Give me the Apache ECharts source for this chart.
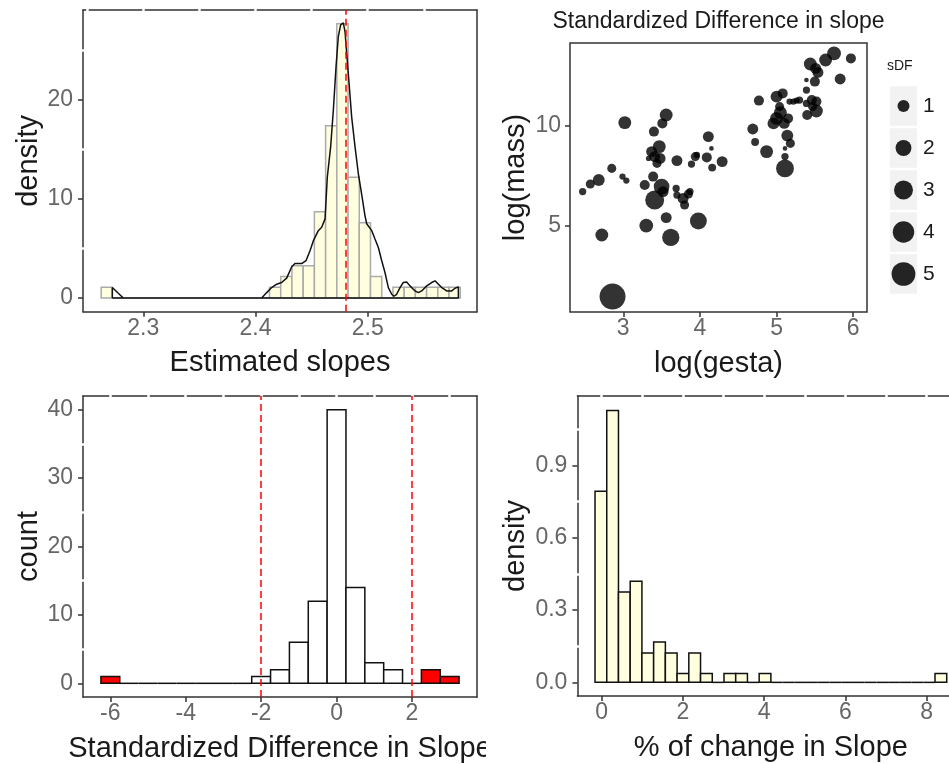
<!DOCTYPE html>
<html>
<head>
<meta charset="utf-8">
<script src="https://cdn.jsdelivr.net/npm/echarts@6/dist/echarts.min.js"></script>
<style>
  html, body { margin: 0; padding: 0; background: #fff; }
  #chart { width: 949px; height: 764px; }
</style>
</head>
<body>
<div id="chart"></div>
<script>
// ---------- Estimated slopes (histogram as density + kernel density outline) ----------
const slopeBinStart = 2.2625;
const slopeBinWidth = 0.01;
const slopeDensity = [1.09, 0, 0, 0, 0, 0, 0, 0, 0, 0, 0, 0, 0, 0, 0,
  1.09, 2.17, 3.26, 3.26, 8.7, 17.4, 27.7, 12.2, 7.6, 2.17, 0,
  1.09, 1.09, 1.09, 1.09, 1.09, 1.09];
const slopeKdeX = [2.2724, 2.2724, 2.2822, 2.4055, 2.41, 2.4144, 2.4189, 2.4233, 2.4278, 2.4323,
  2.4352, 2.4412, 2.445, 2.4486, 2.4516, 2.456, 2.459, 2.462, 2.464, 2.467, 2.4694, 2.4718,
  2.4738, 2.4759, 2.4783, 2.4798, 2.4813, 2.4834, 2.4857, 2.4887, 2.4916, 2.4946, 2.4976,
  2.4991, 2.5036, 2.5065, 2.5095, 2.5125, 2.5154, 2.5184, 2.5214, 2.5234, 2.5258, 2.5288,
  2.5317, 2.5347, 2.5377, 2.5422, 2.5451, 2.5481, 2.5526, 2.557, 2.56, 2.563, 2.566, 2.5704,
  2.5749, 2.5778, 2.5808, 2.5808, 2.2724];
const slopeKdeY = [0, 1.05, 0, 0, 0.54, 1.05, 1.39, 1.56, 2.0, 3.15,
  3.48, 3.48, 3.76, 4.77, 5.79, 6.8, 7.14, 7.99, 12.2, 15.3, 19.0, 23.4,
  26.4, 27.6, 27.8, 26.9, 24.7, 21.7, 18.3, 15.3, 12.6, 10.5, 8.3,
  7.5, 6.8, 5.96, 5.1, 3.76, 2.57, 1.05, 0.37, 0.17, 0.37, 1.05,
  1.56, 1.62, 1.22, 0.71, 0.54, 0.71, 1.22, 1.56, 1.73, 1.39, 1.05, 0.71,
  0.71, 0.98, 1.12, 0, 0];
const slopeMean = 2.478;
const slopeTicks = [2.3, 2.4, 2.5];
const slopeMinorGrid = [2.25, 2.3, 2.35, 2.4, 2.45, 2.5, 2.55];
const slopeDensityTicks = [0, 10, 20];
const slopeDensityMinor = [5, 15, 25];

// ---------- log(mass) against log(gesta), sized by |standardized difference| ----------
const gestaLog = [2.47, 2.57, 2.68, 2.85, 2.99, 3.04, 3.02, 2.72, 2.86, 3.40,
  3.51, 3.56, 3.47, 3.37, 3.41, 3.48, 3.33, 3.44, 3.70, 3.39,
  3.28, 3.50, 3.41, 3.52, 3.69, 3.70, 3.78, 3.85, 3.80, 3.87,
  3.30, 3.56, 3.62, 3.98, 3.89, 3.94, 3.96, 4.11, 4.15, 4.09,
  4.16, 4.29, 4.69, 4.72, 4.77, 4.87, 5.00, 5.08, 4.96, 5.00,
  5.05, 5.10, 5.15, 5.04, 5.11, 5.11, 5.11, 5.14, 5.18, 5.17,
  5.22, 5.30, 5.39, 5.39, 5.39, 5.46, 5.52, 5.40, 5.52, 5.44,
  5.51, 5.54, 5.50, 5.64, 5.75, 5.97, 5.83, 5.47, 5.26];
const massLog = [6.72, 7.10, 7.30, 7.88, 7.47, 7.27, 10.17, 4.55, 1.47, 9.72,
  10.13, 10.55, 8.97, 8.72, 8.47, 8.38, 8.38, 8.13, 8.27, 7.47,
  7.05, 6.97, 6.30, 6.72, 6.88, 6.55, 6.38, 6.60, 6.05, 6.72,
  5.02, 5.42, 4.43, 5.25, 8.10, 8.47, 8.55, 9.47, 8.88, 8.43,
  7.92, 8.22, 9.85, 9.20, 11.27, 8.72, 11.47, 11.63, 10.13, 10.38,
  10.67, 10.13, 10.38, 10.97, 7.88, 8.47, 8.88, 9.52, 9.13, 11.22,
  11.22, 11.30, 11.13, 11.80, 12.30, 11.30, 11.22, 10.55, 10.75, 13.10,
  12.88, 12.68, 12.22, 13.30, 13.63, 13.38, 12.35, 10.97, 11.27];
const sdfAbs = [0.25, 0.48, 0.98, 0.48, 0.16, 0.16, 1.19, 1.19, 6.1, 0.63,
  0.63, 1.19, 1.19, 0.79, 0.79, 0.79, 0.09, 0.48, 0.79, 0.63,
  0.63, 1.92, 3.0, 0.79, 0.25, 0.25, 0.79, 0.48, 0.48, 0.25,
  1.41, 0.79, 2.4, 2.3, 0.25, 0.48, 0.16, 0.79, 0.05, 0.63,
  0.32, 0.79, 0.79, 0.32, 0.63, 1.19, 0.98, 0.63, 0.98, 1.19,
  1.19, 0.79, 0.63, 0.48, 2.6, 0.25, 0.05, 0.98, 0.48, 0.16,
  0.16, 0.25, 0.25, 0.25, 0.05, 0.63, 0.63, 0.63, 1.19, 1.19,
  0.79, 0.79, 0.63, 1.19, 1.41, 0.63, 0.79, 0.48, 0.16];
const gestaTicks = [3, 4, 5, 6];
const massTicks = [5, 10];
const sdfLegendValues = [1, 2, 3, 4, 5];

// ---------- Standardized difference in slope (counts) ----------
const sdfBinMid = [-6, -5.5, -5, -4.5, -4, -3.5, -3, -2.5, -2, -1.5, -1, -0.5, 0, 0.5, 1, 1.5, 2, 2.5, 3];
const sdfCount = [1, 0, 0, 0, 0, 0, 0, 0, 1, 2, 6, 12, 40, 14, 3, 2, 0, 2, 1];
const sdfBinWidth = 0.5;
const sdfCutoffs = [-2, 2];
const sdfTicks = [-6, -4, -2, 0, 2];
const sdfMinorGrid = [-6, -5, -4, -3, -2, -1, 0, 1, 2, 3];
const countTicks = [0, 10, 20, 30, 40];
const countMinor = [5, 15, 25, 35];

// ---------- % of change in slope (density) ----------
const changeBinStart = -0.164;
const changeBinWidth = 0.2886;
const changeDensity = [0.793, 1.127, 0.375, 0.419, 0.122, 0.167, 0.122, 0.037, 0.122, 0.037,
  0, 0.037, 0.037, 0, 0.037, 0, 0, 0, 0, 0,
  0, 0, 0, 0, 0, 0, 0, 0, 0, 0.037];
const changeTicks = [0, 2, 4, 6, 8];
const changeMinorGrid = [0, 1, 2, 3, 4, 5, 6, 7, 8];
const changeDensityTicks = [0, 0.3, 0.6, 0.9];
const changeDensityMinor = [0.15, 0.45, 0.75, 1.05];

// ---------- styling ----------
const FONT = "'Liberation Sans', Arial, Helvetica, sans-serif";
const INK = '#333333';
const tickText = { color: '#666666', fontSize: 23, fontFamily: FONT };
const titleText = { color: '#1a1a1a', fontSize: 29, fontFamily: FONT };

// panel boxes: [left, top, width, height]
const boxSlope = [83, 10, 394, 301.7];
const boxScatter = [570, 43, 297, 269];
const boxSdf = [83, 396, 394, 301];
const boxChange = [577.4, 396, 387, 300];
const boxKey = [890, 85, 27, 210];

const grids = [];
const xAxes = [];
const yAxes = [];
const series = [];

// point diameter (px) for a given |sDF|
function sizeOf(s) { return 2.5 + 9.5 * Math.sqrt(s); }

function binsFrom(lefts, rights, heights) {
  return heights.map((h, i) => [lefts[i], rights[i], h, i]);
}

function histRenderer(fillFor, stroke) {
  return function (params, api) {
    const x0 = api.value(0), x1 = api.value(1), h = api.value(2);
    const p0 = api.coord([x0, 0]);
    const p1 = api.coord([x1, h]);
    if (h === 0) {
      return { type: 'line', shape: { x1: p0[0], y1: p0[1], x2: p1[0], y2: p0[1] },
        style: { stroke: stroke, lineWidth: 1.5 } };
    }
    return {
      type: 'rect',
      shape: { x: p0[0], y: p1[1], width: p1[0] - p0[0], height: p0[1] - p1[1] },
      style: { fill: fillFor(params.dataIndex), stroke: stroke, lineWidth: 1.5 }
    };
  };
}

// A framed panel whose top and left edges are broken by white grid lines.
function framedPanel(cfg) {
  const g = grids.length;
  grids.push({ left: cfg.box[0], top: cfg.box[1], width: cfg.box[2], height: cfg.box[3],
    show: false, containLabel: false, outerBoundsMode: 'none' });
  const line = { show: true, onZero: false, lineStyle: { color: INK, width: 1.5 } };
  const gap = { show: true, lineStyle: { color: '#ffffff', width: 2.5, cap: 'square' } };
  const xi = xAxes.length;
  xAxes.push({
    type: 'value', gridIndex: g, position: 'bottom', min: cfg.x[0], max: cfg.x[1], z: 2,
    axisLine: line,
    axisTick: { show: true, length: 5, customValues: cfg.xTicks, lineStyle: { color: INK, width: 1.5 } },
    axisLabel: Object.assign({ customValues: cfg.xTicks, margin: 5 }, tickText, cfg.xFmt ? { formatter: cfg.xFmt } : {}),
    splitLine: { show: false },
    name: cfg.xName, nameLocation: 'middle', nameGap: cfg.xGap, nameMoveOverlap: false,
    nameTextStyle: titleText
  });
  xAxes.push({
    type: 'value', gridIndex: g, position: 'top', min: cfg.x[0], max: cfg.x[1], z: 0,
    axisLine: line, axisTick: { show: false }, axisLabel: { show: false }, splitLine: { show: false }
  });
  xAxes.push({
    type: 'value', gridIndex: g, position: 'top', min: cfg.x[0], max: cfg.x[1], z: 1,
    axisLine: { show: false }, axisTick: { show: false, customValues: cfg.xGrid },
    axisLabel: { show: false }, splitLine: gap
  });
  const yi = yAxes.length;
  yAxes.push({
    type: 'value', gridIndex: g, position: 'left', min: cfg.y[0], max: cfg.y[1], z: 0,
    axisLine: line,
    axisTick: { show: true, length: 5, customValues: cfg.yTicks, lineStyle: { color: INK, width: 1.5 } },
    axisLabel: Object.assign({ customValues: cfg.yTicks, margin: 10 }, tickText, cfg.yFmt ? { formatter: cfg.yFmt } : {}),
    splitLine: { show: false },
    name: cfg.yName, nameLocation: 'middle', nameGap: cfg.yGap, nameMoveOverlap: false,
    nameTextStyle: titleText
  });
  yAxes.push({
    type: 'value', gridIndex: g, position: 'left', min: cfg.y[0], max: cfg.y[1], z: 1,
    axisLine: { show: false }, axisTick: { show: false, customValues: cfg.yGrid },
    axisLabel: { show: false }, splitLine: gap
  });
  yAxes.push({
    type: 'value', gridIndex: g, position: 'right', min: cfg.y[0], max: cfg.y[1], z: 2,
    axisLine: line, axisTick: { show: false }, axisLabel: { show: false }, splitLine: { show: false }
  });
  return { xi: xi, yi: yi };
}

// ---- Estimated slopes ----
const pSlope = framedPanel({
  box: boxSlope, x: [2.2463, 2.5974], y: [-1.39, 29.1],
  xTicks: slopeTicks, xGrid: slopeMinorGrid, yTicks: slopeDensityTicks, yGrid: slopeDensityMinor,
  xName: 'Estimated slopes', yName: 'density', xGap: 37, yGap: 40
});
const slopeLefts = slopeDensity.map((_, i) => slopeBinStart + i * slopeBinWidth);
const slopeRights = slopeDensity.map((_, i) => slopeBinStart + (i + 1) * slopeBinWidth);
series.push({
  type: 'custom', xAxisIndex: pSlope.xi, yAxisIndex: pSlope.yi, z: 2, silent: true,
  renderItem: histRenderer(() => '#ffffe0', '#ababab'),
  encode: { x: [0, 1], y: 2 },
  data: binsFrom(slopeLefts, slopeRights, slopeDensity)
});
series.push({
  type: 'line', xAxisIndex: pSlope.xi, yAxisIndex: pSlope.yi, z: 3, silent: true,
  showSymbol: false, symbol: 'none',
  lineStyle: { color: '#111111', width: 1.5 },
  data: slopeKdeX.map((x, i) => [x, slopeKdeY[i]]),
  markLine: {
    silent: true, symbol: ['none', 'none'], label: { show: false },
    lineStyle: { color: '#ff0000', width: 1.5, type: [7, 4] },
    data: [{ xAxis: slopeMean }]
  }
});

// ---- Standardized difference counts ----
const pSdf = framedPanel({
  box: boxSdf, x: [-6.725, 3.725], y: [-2, 42],
  xTicks: sdfTicks, xGrid: sdfMinorGrid, yTicks: countTicks, yGrid: countMinor,
  xName: 'Standardized Difference in Slope', yName: 'count', xGap: 37, yGap: 40
});
series.push({
  type: 'custom', xAxisIndex: pSdf.xi, yAxisIndex: pSdf.yi, z: 2, silent: true,
  renderItem: histRenderer(i => (Math.abs(sdfBinMid[i]) > sdfCutoffs[1] ? '#ff0000' : '#ffffff'), '#111111'),
  encode: { x: [0, 1], y: 2 },
  data: binsFrom(sdfBinMid.map(m => m - sdfBinWidth / 2), sdfBinMid.map(m => m + sdfBinWidth / 2), sdfCount),
  markLine: {
    silent: true, symbol: ['none', 'none'], label: { show: false },
    lineStyle: { color: '#ff0000', width: 1.5, type: [7, 4] },
    data: sdfCutoffs.map(c => ({ xAxis: c }))
  }
});

// ---- % of change in slope ----
const pChange = framedPanel({
  box: boxChange, x: [-0.598, 8.929], y: [-0.0565, 1.1875],
  xTicks: changeTicks, xGrid: changeMinorGrid, yTicks: changeDensityTicks, yGrid: changeDensityMinor,
  yFmt: v => v.toFixed(1),
  xName: '% of change in Slope', yName: 'density', xGap: 37, yGap: 47
});
series.push({
  type: 'custom', xAxisIndex: pChange.xi, yAxisIndex: pChange.yi, z: 2, silent: true,
  renderItem: histRenderer(() => '#ffffe0', '#111111'),
  encode: { x: [0, 1], y: 2 },
  data: binsFrom(changeDensity.map((_, i) => changeBinStart + i * changeBinWidth),
    changeDensity.map((_, i) => changeBinStart + (i + 1) * changeBinWidth), changeDensity)
});

// ---- Scatter of log(mass) vs log(gesta) ----
const gScatter = grids.length;
grids.push({ left: boxScatter[0], top: boxScatter[1], width: boxScatter[2], height: boxScatter[3],
  show: true, borderColor: INK, borderWidth: 1.5, backgroundColor: 'transparent',
  containLabel: false, outerBoundsMode: 'none' });
const sxi = xAxes.length;
xAxes.push({
  type: 'value', gridIndex: gScatter, position: 'bottom', min: 2.305, max: 6.18,
  axisLine: { show: false, onZero: false },
  axisTick: { show: true, length: 5, customValues: gestaTicks, lineStyle: { color: INK, width: 1.5 } },
  axisLabel: Object.assign({ customValues: gestaTicks, margin: 5 }, tickText),
  splitLine: { show: false },
  name: 'log(gesta)', nameLocation: 'middle', nameGap: 37, nameMoveOverlap: false, nameTextStyle: titleText
});
const syi = yAxes.length;
yAxes.push({
  type: 'value', gridIndex: gScatter, position: 'left', min: 0.7, max: 14.15,
  axisLine: { show: false, onZero: false },
  axisTick: { show: true, length: 5, customValues: massTicks, lineStyle: { color: INK, width: 1.5 } },
  axisLabel: Object.assign({ customValues: massTicks, margin: 9 }, tickText),
  splitLine: { show: false },
  name: 'log(mass)', nameLocation: 'middle', nameGap: 40, nameMoveOverlap: false, nameTextStyle: titleText
});
series.push({
  type: 'scatter', xAxisIndex: sxi, yAxisIndex: syi, z: 3, silent: true,
  symbol: 'circle',
  symbolSize: v => sizeOf(v[2]),
  itemStyle: { color: '#000000', opacity: 0.8 },
  data: gestaLog.map((g, i) => [g, massLog[i], sdfAbs[i]])
});

// ---- Size key for sDF ----
const gKey = grids.length;
grids.push({ left: boxKey[0], top: boxKey[1], width: boxKey[2], height: boxKey[3],
  show: false, containLabel: false, outerBoundsMode: 'none' });
const kxi = xAxes.length;
xAxes.push({ type: 'value', gridIndex: gKey, min: 0, max: 1, show: false });
const kyi = yAxes.length;
yAxes.push({
  type: 'category', gridIndex: gKey, position: 'right', inverse: true,
  data: sdfLegendValues.map(String),
  axisLine: { show: false }, axisTick: { show: false }, splitLine: { show: false },
  axisLabel: { color: '#1a1a1a', fontSize: 21, fontFamily: FONT, margin: 6 }
});
series.push({
  type: 'bar', xAxisIndex: kxi, yAxisIndex: kyi, silent: true, barCategoryGap: '6%',
  itemStyle: { color: '#f2f2f2' },
  data: sdfLegendValues.map(() => 1)
});
series.push({
  type: 'scatter', xAxisIndex: kxi, yAxisIndex: kyi, silent: true, z: 3,
  symbol: 'circle',
  symbolSize: (v, p) => sizeOf(sdfLegendValues[p.dataIndex]),
  itemStyle: { color: '#000000', opacity: 0.85 },
  data: sdfLegendValues.map((_, i) => [0.5, i])
});

const chart = echarts.init(document.getElementById('chart'), null, { renderer: 'canvas' });
chart.setOption({
  animation: false,
  backgroundColor: '#ffffff',
  textStyle: { fontFamily: FONT },
  grid: grids,
  xAxis: xAxes,
  yAxis: yAxes,
  series: series,
  graphic: [
    {
      type: 'text', x: boxScatter[0] + boxScatter[2] / 2, y: 10, silent: true,
      style: { text: 'Standardized Difference in slope', fill: '#1a1a1a', font: '23px ' + FONT,
        textAlign: 'center', textVerticalAlign: 'top' }
    },
    {
      type: 'text', x: 887, y: 59, silent: true,
      style: { text: 'sDF', fill: '#1a1a1a', font: '14px ' + FONT, textAlign: 'left', textVerticalAlign: 'top' }
    },
    {
      // the bottom-left axis title runs into the neighbouring cell and is cut there
      type: 'rect', x: 486, y: 722, z: 100, silent: true,
      shape: { width: 90, height: 42 }, style: { fill: '#ffffff' }
    }
  ]
});
</script>
</body>
</html>
